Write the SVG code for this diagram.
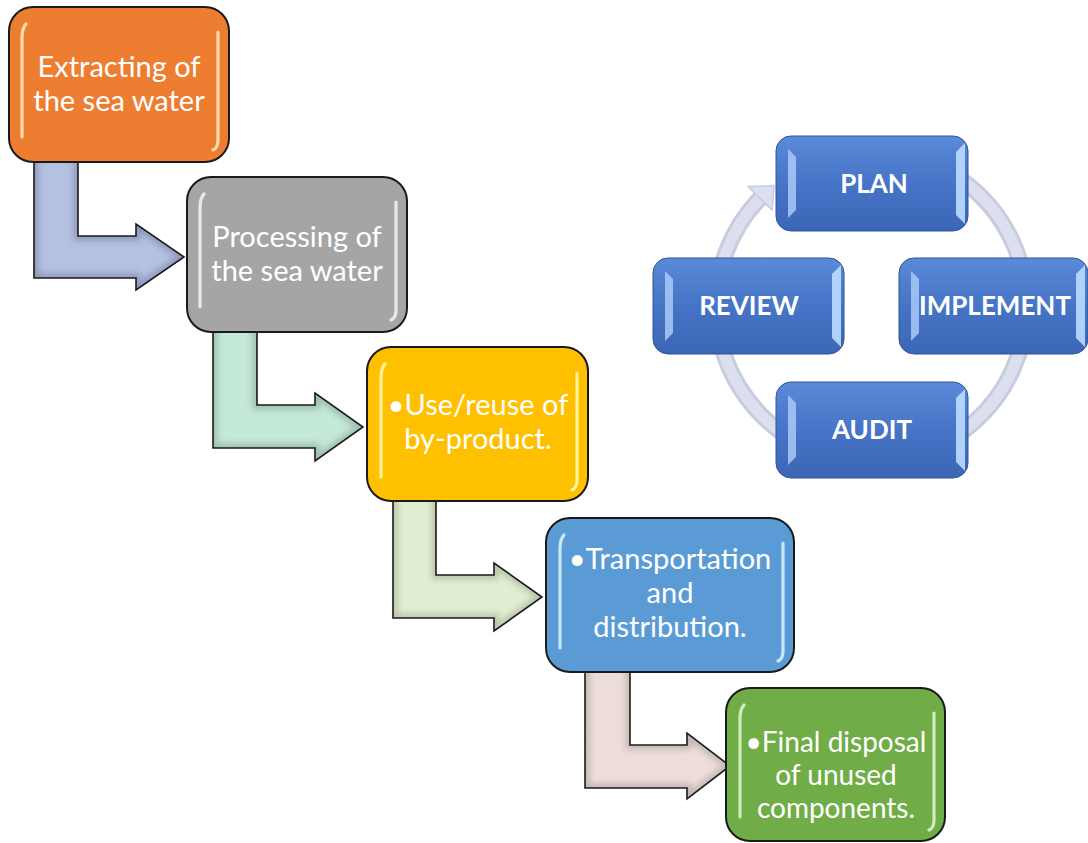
<svg xmlns="http://www.w3.org/2000/svg" xmlns:xlink="http://www.w3.org/1999/xlink" width="1088" height="843" viewBox="0 0 1088 843">
<style>
.ft{font-family:Lato,"Open Sans","DejaVu Sans",sans-serif;font-size:29px;fill:#ffffff;text-anchor:middle}
.ft28{font-size:28px}
.ct{font-family:Lato,"Open Sans","DejaVu Sans",sans-serif;font-size:26px;font-weight:bold;fill:#ffffff;text-anchor:middle}
.fbox{stroke:#1a1a1a;stroke-width:2}
.hl{fill:none;stroke-width:3.2;stroke-linecap:round;opacity:0.9}
.arr{stroke:#1a1a1a;stroke-width:1.6;stroke-linejoin:miter}
.shade{fill:none;stroke-width:9;opacity:0.55}
.cbox{fill:url(#cg);stroke:#2f5597;stroke-width:1}
.bl{fill:#a9c9f7;opacity:0.85}
.br{fill:#bcdcff;opacity:0.9}
</style>
<defs>
<linearGradient id="cg" x1="0" y1="0" x2="0" y2="1">
<stop offset="0" stop-color="#5b8ad9"/>
<stop offset="0.5" stop-color="#4674c6"/>
<stop offset="1" stop-color="#3b66b6"/>
</linearGradient>
<filter id="blur" x="-10%" y="-10%" width="120%" height="120%"><feGaussianBlur stdDeviation="3"/></filter>
<path id="a1" d="M34,150 L78,150 L78,236 L136,236 L136,224 L184,257 L136,290 L136,278 L34,278 Z"/>
<path id="a2" d="M213,320 L257,320 L257,405 L315,405 L315,393 L363,427 L315,461 L315,448 L213,448 Z"/>
<path id="a3" d="M393,490 L436,490 L436,575 L494,575 L494,563 L542,597 L494,631 L494,618 L393,618 Z"/>
<path id="a4" d="M585,660 L630,660 L630,745 L687,745 L687,733 L730,766 L687,799 L687,788 L585,788 Z"/>
<clipPath id="c1"><use xlink:href="#a1"/></clipPath>
<clipPath id="c2"><use xlink:href="#a2"/></clipPath>
<clipPath id="c3"><use xlink:href="#a3"/></clipPath>
<clipPath id="c4"><use xlink:href="#a4"/></clipPath>
</defs>

<g id="connectors">
<g id="arrow1">
<use xlink:href="#a1" fill="#b5c1e0"/>
<use xlink:href="#a1" class="shade" stroke="#6f7c9e" clip-path="url(#c1)" filter="url(#blur)"/>
<use xlink:href="#a1" class="arr" fill="none"/>
</g>
<g id="arrow2">
<use xlink:href="#a2" fill="#c5e9d7"/>
<use xlink:href="#a2" class="shade" stroke="#7c9e8e" clip-path="url(#c2)" filter="url(#blur)"/>
<use xlink:href="#a2" class="arr" fill="none"/>
</g>
<g id="arrow3">
<use xlink:href="#a3" fill="#e2eed2"/>
<use xlink:href="#a3" class="shade" stroke="#99a688" clip-path="url(#c3)" filter="url(#blur)"/>
<use xlink:href="#a3" class="arr" fill="none"/>
</g>
<g id="arrow4">
<use xlink:href="#a4" fill="#eddedb"/>
<use xlink:href="#a4" class="shade" stroke="#a39592" clip-path="url(#c4)" filter="url(#blur)"/>
<use xlink:href="#a4" class="arr" fill="none"/>
</g>
<g id="cycle-arc">
<path d="M911.6,156.3 A155,155 0 1 1 760.0,198.3" fill="none" stroke="#c8cce0" stroke-width="17"/>
<path d="M911.6,156.3 A155,155 0 1 1 760.0,198.3" fill="none" stroke="#dcdfee" stroke-width="11"/>
<polygon points="772.2,210.1 747.8,186.5 774,185.5" fill="#dcdfee" stroke="#c8cce0" stroke-width="1.5" stroke-linejoin="round"/>
</g>
</g>

<g id="node-extracting">
<rect class="fbox" x="9" y="7" width="220" height="155" rx="24" fill="#ed7d31"/>
<path class="hl" stroke="#fde6c2" d="M26,24 Q22,28 22,38 L22,137"/>
<path class="hl" stroke="#fde6c2" d="M218,32 L218,140 Q218,148 213,150"/>
<text class="ft" x="119" y="77">Extracting of</text>
<text class="ft" x="119" y="111">the sea water</text>
</g>

<g id="node-processing">
<rect class="fbox" x="187" y="177" width="220" height="155" rx="24" fill="#a5a5a5"/>
<path class="hl" stroke="#f2f2f2" d="M204,194 Q200,198 200,208 L200,307"/>
<path class="hl" stroke="#f2f2f2" d="M396,202 L396,310 Q396,318 391,320"/>
<text class="ft" x="297" y="247">Processing of</text>
<text class="ft" x="297" y="281">the sea water</text>
</g>

<g id="node-reuse">
<rect class="fbox" x="367" y="347" width="221" height="154" rx="24" fill="#ffc000"/>
<path class="hl" stroke="#fff7a8" d="M385,364 Q381,368 381,378 L381,477"/>
<path class="hl" stroke="#fff7a8" d="M577,373 L577,480 Q577,488 572,490"/>
<text class="ft" x="478" y="415">•Use/reuse of</text>
<text class="ft" x="478" y="449">by-product.</text>
</g>

<g id="node-transport">
<rect class="fbox" x="546" y="518" width="248" height="154" rx="24" fill="#5b9bd5"/>
<path class="hl" stroke="#d4efff" d="M564,535 Q560,539 560,549 L560,648"/>
<path class="hl" stroke="#d4efff" d="M783,543 L783,651 Q783,659 778,661"/>
<text class="ft" x="670" y="569">•Transportation</text>
<text class="ft" x="670" y="603">and</text>
<text class="ft" x="670" y="637">distribution.</text>
</g>

<g id="node-disposal">
<rect class="fbox" x="726" y="688" width="219" height="153" rx="24" fill="#70ad47"/>
<path class="hl" stroke="#dcf2c6" d="M744,705 Q740,709 740,719 L740,817"/>
<path class="hl" stroke="#dcf2c6" d="M934,713 L934,820 Q934,828 929,830"/>
<text class="ft ft28" x="836" y="752">•Final disposal</text>
<text class="ft ft28" x="836" y="785">of unused</text>
<text class="ft ft28" x="836" y="818">components.</text>
</g>

<g id="node-plan">
<rect class="cbox" x="776" y="136" width="192" height="95" rx="15"/>
<polygon class="bl" points="788,149 796,157 796,210 788,218"/>
<polygon class="br" points="965,143 956,152 956,215 965,224"/>
<text class="ct" x="874" y="193">PLAN</text>
</g>

<g id="node-review">
<rect class="cbox" x="653" y="258" width="191" height="96" rx="15"/>
<polygon class="bl" points="665,271 673,279 673,333 665,341"/>
<polygon class="br" points="841,265 832,274 832,338 841,347"/>
<text class="ct" x="749" y="315">REVIEW</text>
</g>

<g id="node-implement">
<rect class="cbox" x="899" y="258" width="189" height="96" rx="15"/>
<polygon class="bl" points="911,271 919,279 919,333 911,341"/>
<polygon class="br" points="1085,265 1076,274 1076,338 1085,347"/>
<text class="ct" x="995" y="315">IMPLEMENT</text>
</g>

<g id="node-audit">
<rect class="cbox" x="776" y="382" width="192" height="96" rx="15"/>
<polygon class="bl" points="788,395 796,403 796,457 788,465"/>
<polygon class="br" points="965,389 956,398 956,462 965,471"/>
<text class="ct" x="872" y="439">AUDIT</text>
</g>
</svg>
